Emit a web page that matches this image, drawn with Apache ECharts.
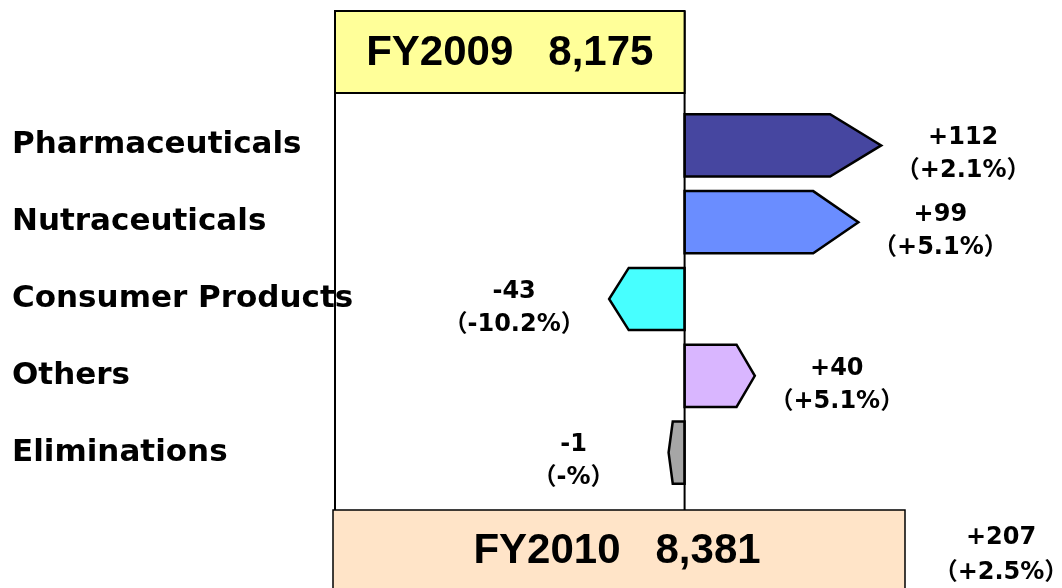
<!DOCTYPE html>
<html>
<head>
<meta charset="utf-8">
<script src="https://cdn.jsdelivr.net/npm/echarts@6/dist/echarts.min.js"></script>
<style>
  html, body { margin: 0; padding: 0; background: #fff; }
  #chart { width: 1062px; height: 588px; }
</style>
</head>
<body>
<div id="chart"></div>
<script>
const segments = ['Pharmaceuticals', 'Nutraceuticals', 'Consumer Products', 'Others', 'Eliminations']
const changes = [112, 99, -43, 40, -1]
const changePct = ['+2.1%', '+5.1%', '-10.2%', '+5.1%', '-%']
const years = ['FY2009', 'FY2010']
const totals = [8175, 8381]
const totalChange = 207
const totalPct = '+2.5%'

const colors = ['#4646a0', '#6a8dff', '#47ffff', '#d9b6ff', '#a6a6a6']
const labelFont = "'DejaVu Sans', 'Noto Sans CJK JP', sans-serif"
const boxFont = "'Liberation Sans', Arial, sans-serif"

const signed = v => (v > 0 ? '+' : '') + v
const fmt = v => v.toLocaleString('en-US')

const chart = echarts.init(document.getElementById('chart'))

const renderArrow = (params, api) => {
  const v = api.value(0)
  const idx = api.value(1)
  const p0 = api.coord([0, idx])
  const p1 = api.coord([v, idx])
  const h = api.size([0, 1])[1] * 0.81
  const dir = v >= 0 ? 1 : -1
  const len = Math.max(Math.abs(p1[0] - p0[0]), 16)
  const x0 = p0[0]
  const x1 = x0 + dir * len
  const tip = len * 0.26
  const y = p0[1]
  return {
    type: 'group',
    children: [
      {
        type: 'polygon',
        shape: {
          points: [
            [x0, y - h / 2],
            [x1 - dir * tip, y - h / 2],
            [x1, y],
            [x1 - dir * tip, y + h / 2],
            [x0, y + h / 2]
          ]
        },
        style: { fill: colors[idx], stroke: '#000', lineWidth: 2.5 }
      },
      {
        type: 'text',
        x: x1 + dir * (dir > 0 ? 82 : 95),
        y: y + 9,
        style: {
          text: signed(v) + '\n（' + changePct[idx] + '）',
          fill: '#000',
          font: 'bold 24px ' + labelFont,
          lineHeight: 33,
          align: 'center',
          verticalAlign: 'middle'
        }
      }
    ]
  }
}

chart.setOption({
  animation: false,
  grid: { left: 0, right: 0, top: 107, bottom: 97 },
  xAxis: {
    type: 'value',
    min: -390,
    max: 215,
    show: false
  },
  yAxis: {
    type: 'category',
    inverse: true,
    data: segments,
    axisLine: { show: false },
    axisTick: { show: false },
    splitLine: { show: false },
    axisLabel: {
      inside: true,
      align: 'left',
      margin: 12,
      padding: [5, 0, 0, 0],
      color: '#000',
      fontWeight: 'bold',
      fontSize: 31,
      fontFamily: labelFont
    }
  },
  series: [
    {
      type: 'custom',
      renderItem: renderArrow,
      encode: { x: 0, y: 1 },
      data: changes.map((v, i) => [v, i]),
      z: 5
    }
  ]
})

const x0 = chart.convertToPixel({ xAxisIndex: 0 }, 0)

chart.setOption({
  graphic: [
    {
      type: 'line',
      z: 10,
      shape: { x1: 335, y1: 93, x2: 335, y2: 510 },
      style: { stroke: '#000', lineWidth: 2 }
    },
    {
      type: 'line',
      z: 10,
      shape: { x1: x0, y1: 11, x2: x0, y2: 510 },
      style: { stroke: '#000', lineWidth: 2 }
    },
    {
      type: 'rect',
      z: 11,
      shape: { x: 335, y: 11, width: x0 - 335, height: 82 },
      style: { fill: '#ffff99', stroke: '#000', lineWidth: 2 }
    },
    {
      type: 'text',
      z: 12,
      x: (335 + x0) / 2,
      y: 53,
      style: {
        text: years[0] + '   ' + fmt(totals[0]),
        font: 'bold 42px ' + boxFont,
        fill: '#000',
        align: 'center',
        verticalAlign: 'middle'
      }
    },
    {
      type: 'rect',
      z: 11,
      shape: { x: 333, y: 510, width: 572, height: 100 },
      style: { fill: '#ffe4c8', stroke: '#000', lineWidth: 1.5 }
    },
    {
      type: 'text',
      z: 12,
      x: 617,
      y: 551,
      style: {
        text: years[1] + '   ' + fmt(totals[1]),
        font: 'bold 42px ' + boxFont,
        fill: '#000',
        align: 'center',
        verticalAlign: 'middle'
      }
    },
    {
      type: 'text',
      z: 12,
      x: 1001,
      y: 555,
      style: {
        text: signed(totalChange) + '\n（' + totalPct + '）',
        font: 'bold 24px ' + labelFont,
        lineHeight: 35,
        fill: '#000',
        align: 'center',
        verticalAlign: 'middle'
      }
    }
  ]
})

window.addEventListener('resize', () => chart.resize())
</script>
</body>
</html>
